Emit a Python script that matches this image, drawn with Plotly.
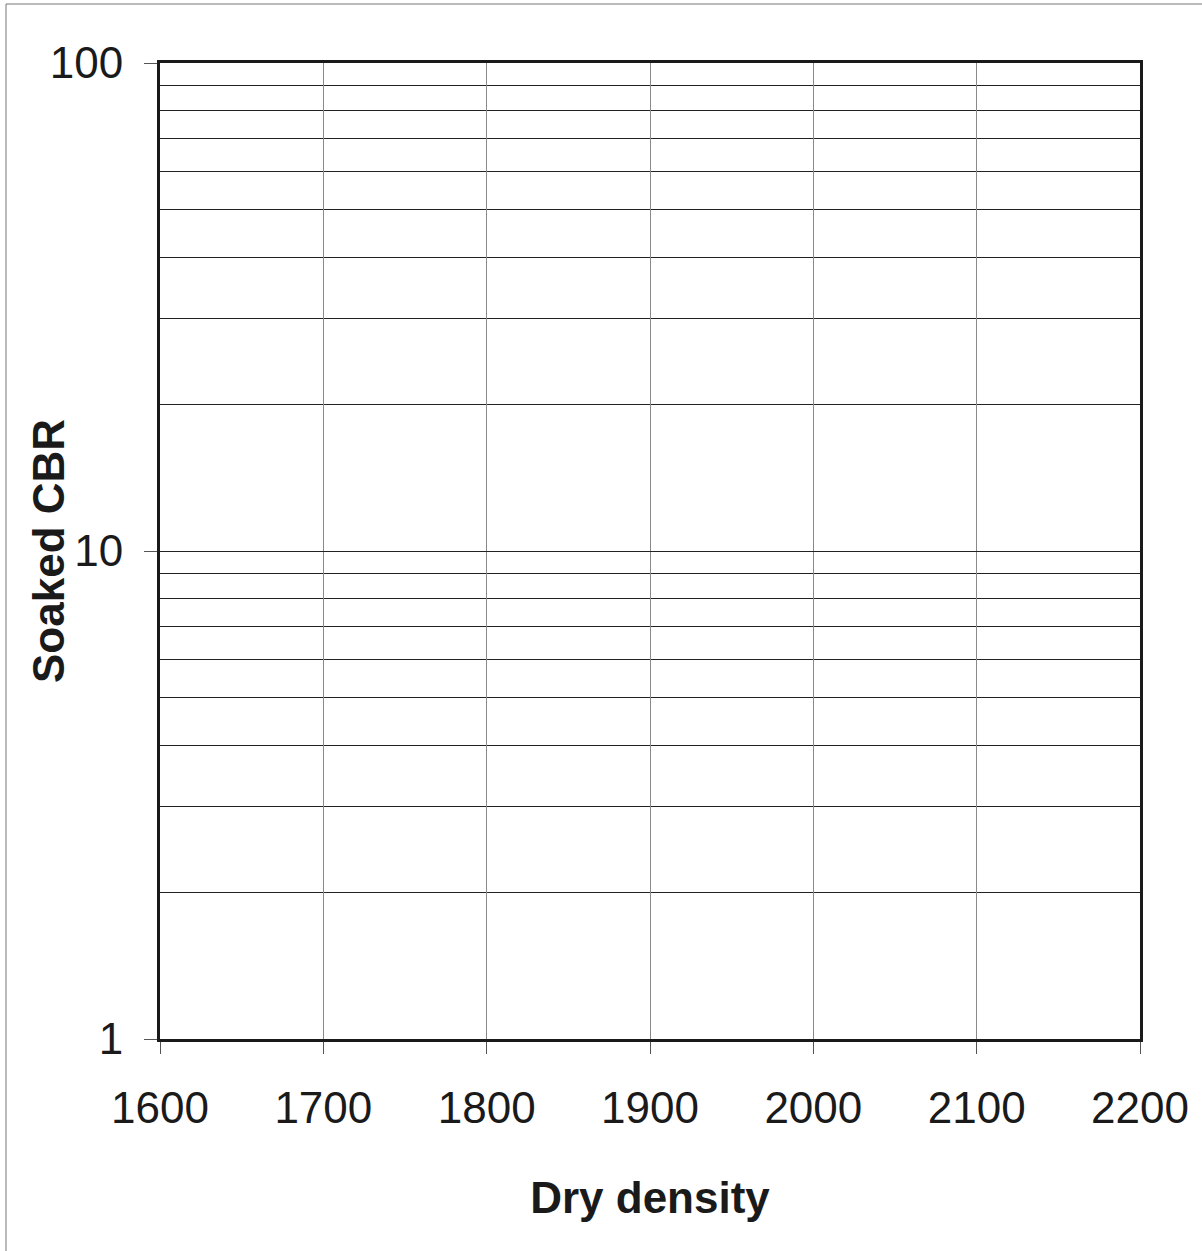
import plotly.graph_objects as go

# Axis definitions (chart is an empty log-scale grid)
x_tick_values = [1600, 1700, 1800, 1900, 2000, 2100, 2200]
y_major_ticks = [1, 10, 100]
y_minor_grid = [2, 3, 4, 5, 6, 7, 8, 9, 20, 30, 40, 50, 60, 70, 80, 90]
x_title = "Dry density"
y_title = "Soaked CBR"

# no data series plotted
series_x = []
series_y = []

fig = go.Figure()
fig.add_trace(go.Scatter(x=series_x, y=series_y, mode="markers", showlegend=False))

font_family = "Liberation Sans, Arial, sans-serif"
L, R, T, B = 160, 62, 63, 212
PW, PH = 1202 - L - R, 1251 - T - B

fig.update_layout(
    width=1202, height=1251,
    margin=dict(l=L, r=R, t=T, b=B),
    paper_bgcolor="white", plot_bgcolor="white",
    font=dict(family=font_family, color="#1a1a1a"),
    xaxis=dict(
        range=[1600, 2200], tickvals=x_tick_values, automargin=False,
        ticks="outside", ticklen=12, tickwidth=1, tickcolor="#555",
        tickfont=dict(size=44, family=font_family, color="#1a1a1a"),
        ticklabelstandoff=16,
        showline=True, linewidth=3, linecolor="#1a1a1a", mirror=True,
        showgrid=True, gridcolor="#8a8a8a", gridwidth=1,
        zeroline=False,
        title=dict(text="<b>" + x_title + "</b>", font=dict(size=44, family=font_family, color="#1a1a1a"), standoff=52),
    ),
    yaxis=dict(
        type="log", range=[0, 2], tickvals=y_major_ticks, automargin=False,
        ticktext=[str(v) for v in y_major_ticks],
        ticks="outside", ticklen=13, tickwidth=1, tickcolor="#555",
        tickfont=dict(size=44, family=font_family, color="#1a1a1a"),
        ticklabelstandoff=12,
        showline=True, linewidth=3, linecolor="#1a1a1a", mirror=True,
        showgrid=True, gridcolor="#222", gridwidth=1.2,
        minor=dict(tickvals=y_minor_grid, showgrid=True, gridcolor="#222", gridwidth=1.2, ticks=""),
        zeroline=False,
    ),
    annotations=[dict(
        text="<b>" + y_title + "</b>", textangle=-90, showarrow=False,
        xref="paper", yref="paper", x=(48 - L) / PW, y=0.5,
        xanchor="center", yanchor="middle",
        font=dict(size=44, family=font_family, color="#1a1a1a"),
    )],
)

# faint scanned page border (left and top edges)
fig.add_shape(type="line", xref="paper", yref="paper",
              x0=(6 - L) / PW, x1=(6 - L) / PW, y0=-(B) / PH, y1=1 + (T - 4) / PH,
              line=dict(color="#777", width=1))
fig.add_shape(type="line", xref="paper", yref="paper",
              x0=(6 - L) / PW, x1=(1202 - L) / PW, y0=1 + (T - 4) / PH, y1=1 + (T - 4) / PH,
              line=dict(color="#777", width=1))

fig.write_html("out.html")
